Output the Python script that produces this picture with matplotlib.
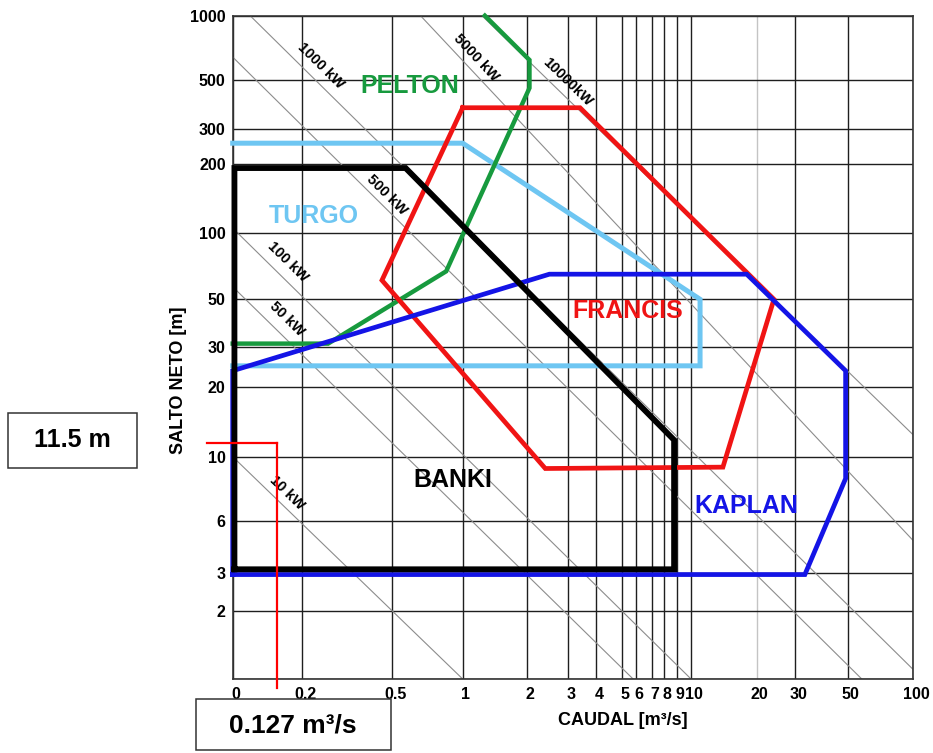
import numpy as np
import matplotlib
matplotlib.use('Agg')
import matplotlib.pyplot as plt
from matplotlib.patches import Rectangle
from matplotlib.transforms import ScaledTranslation, blended_transform_factory

plt.rcParams['font.family'] = ['Liberation Sans', 'DejaVu Sans']
plt.rcParams['font.weight'] = 'bold'

# axis ticks: caudal [m3/s] and salto neto [m]
q_ticks = [0, 0.2, 0.5, 1, 2, 3, 4, 5, 6, 7, 8, 9, 10, 20, 30, 50, 100]
q_labels = ['0', '0.2', '0.5', '1', '2', '3', '4', '5', '6', '7', '8', '9',
            '10', '20', '30', '50', '100']
h_ticks = [1, 2, 3, 6, 10, 20, 30, 50, 100, 200, 300, 500, 1000]
h_labels = ['', '2', '3', '6', '10', '20', '30', '50', '100', '200', '300',
            '500', '1000']

# where every tick sits along its axis (fraction of axis length)
q_frac = [0, 0.1023, 0.2345, 0.3379, 0.4324, 0.4922, 0.5338, 0.5716, 0.5921,
          0.6156, 0.6337, 0.6532, 0.6734, 0.7699, 0.8262, 0.9036, 1.0]
h_frac = [0, 0.1025, 0.1598, 0.2387, 0.3351, 0.4407, 0.5010, 0.5724, 0.6724,
          0.7764, 0.8287, 0.9031, 1.0]

# application ranges of each turbine type (Q, H)
pelton_q = [0, 0.26, 0.85, 2.05, 2.05, 1.27]
pelton_h = [31, 31, 67, 460, 620, 1000]

turgo_q = [0, 1.0, 11, 11, 0]
turgo_h = [255, 255, 50, 24.7, 24.7]

francis_q = [1.0, 3.4, 24, 14, 2.4, 0.45, 1.0]
francis_h = [375, 375, 50, 9.2, 9.1, 61, 375]

kaplan_q = [0, 0, 2.5, 18, 49, 49, 33, 0]
kaplan_h = [2.95, 23.5, 65, 65, 23.5, 8.4, 2.95, 2.95]

banki_q = [0.005, 0.005, 0.57, 8.75, 8.75, 0.005]
banki_h = [3.15, 192, 192, 11.8, 3.15, 3.15]

names = ['PELTON', 'TURGO', 'BANKI', 'FRANCIS', 'KAPLAN']
name_q = [0.595, 0.225, 0.909, 5.39, 17.9]
name_h = [470, 118.6, 8.29, 44.3, 6.74]

# constant power lines: end points and label anchors
power_labels = ['10 kW', '50 kW', '100 kW', '500 kW', '1000 kW', '5000 kW', '10000kW']
power_q0 = [0, 0, 0, 0, 0.05, 0.66, 1.23]
power_h0 = [10, 57, 105, 640, 1000, 1000, 1000]
power_q1 = [1.0, 5.8, 10, 58, 100, 100, 100]
power_h1 = [1, 1, 1, 1, 1.1, 4.6, 12.4]
power_lq = [0.156, 0.156, 0.159, 0.474, 0.242, 1.154, 3.0]
power_lh = [7.5, 40.3, 73.9, 146.5, 581, 634, 490]

# design point
q_mark = 0.127
h_mark = 11.5


def lin_interp(v, xk, yk):
    # np.interp with linear extrapolation at both ends
    v = np.asarray(v, float)
    out = np.interp(v, xk, yk)
    left = yk[0] + (v - xk[0]) * (yk[1] - yk[0]) / (xk[1] - xk[0])
    right = yk[-1] + (v - xk[-1]) * (yk[-1] - yk[-2]) / (xk[-1] - xk[-2])
    return np.where(v < xk[0], left, np.where(v > xk[-1], right, out))


Q_SPLIT = 0.2  # linear between 0 and 0.2, logarithmic above


def q_to_t(q):
    q = np.asarray(q, float)
    t0 = np.log10(Q_SPLIT)
    return np.where(q >= Q_SPLIT, np.log10(np.maximum(q, Q_SPLIT)), t0 - (Q_SPLIT - q))


def t_to_q(t):
    t = np.asarray(t, float)
    t0 = np.log10(Q_SPLIT)
    return np.where(t >= t0, 10 ** np.clip(t, t0, 10), Q_SPLIT - (t0 - t))


q_t = q_to_t(q_ticks)
h_t = np.log10(h_ticks)


def fwd_q(q):
    return lin_interp(q_to_t(q), q_t, q_frac)


def inv_q(f):
    return t_to_q(lin_interp(f, q_frac, q_t))


def fwd_h(h):
    return lin_interp(np.log10(np.maximum(np.asarray(h, float), 1e-9)), h_t, h_frac)


def inv_h(f):
    return 10 ** lin_interp(f, h_frac, h_t)


fig = plt.figure(figsize=(9.33, 7.53), dpi=100)
ax = fig.add_axes([0.2494, 0.0983, 0.7295, 0.8809])
ax.set_xscale('function', functions=(fwd_q, inv_q))
ax.set_yscale('function', functions=(fwd_h, inv_h))
ax.set_xlim(0, 100)
ax.set_ylim(1, 1000)

ax.set_xticks(q_ticks, q_labels)
ax.set_yticks(h_ticks, h_labels)
ax.tick_params(length=0, labelsize=11.5)
ax.tick_params(axis='x', pad=6)
ax.tick_params(axis='y', pad=5)
for lab in ax.get_xticklabels():
    lab.set_transform(lab.get_transform() + ScaledTranslation(3 / 100, 0, fig.dpi_scale_trans))

ax.set_axisbelow(True)
ax.grid(True, color='#1e1e1e', lw=1.0)
ax.get_xgridlines()[q_ticks.index(20)].set_color('#c4c4c4')
for sp in ax.spines.values():
    sp.set_color('#333333')
    sp.set_linewidth(1.2)

# constant power lines
for i, lab in enumerate(power_labels):
    ax.plot([power_q0[i], power_q1[i]], [power_h0[i], power_h1[i]],
            color='#8c8c8c', lw=0.8, zorder=1)
    p0 = ax.transData.transform((power_q0[i], power_h0[i]))
    p1 = ax.transData.transform((power_q1[i], power_h1[i]))
    ang = np.degrees(np.arctan2(p1[1] - p0[1], p1[0] - p0[0]))
    ax.text(power_lq[i], power_lh[i], lab, rotation=ang, rotation_mode='anchor',
            ha='center', va='center', fontsize=10.5, fontweight='bold', zorder=2)

# turbine ranges
ax.plot(turgo_q, turgo_h, color='#6ec6f2', lw=3.6, clip_on=False,
        solid_joinstyle='miter', zorder=3)
ax.plot(pelton_q, pelton_h, color='#179a3e', lw=3.2, clip_on=False,
        solid_joinstyle='miter', zorder=3)
ax.plot(francis_q, francis_h, color='#f01414', lw=3.4, clip_on=False,
        solid_joinstyle='miter', zorder=3)
ax.plot(kaplan_q, kaplan_h, color='#1414e6', lw=3.4, clip_on=False,
        solid_joinstyle='miter', zorder=3)
ax.plot(banki_q, banki_h, color='black', lw=4.2, clip_on=False,
        solid_joinstyle='miter', zorder=3)

name_colors = ['#179a3e', '#6ec6f2', 'black', '#f01414', '#1414e6']
for n, q, h, c in zip(names, name_q, name_h, name_colors):
    ax.text(q, h, n, color=c, fontsize=18, fontweight='bold',
            ha='center', va='center', zorder=4)

ax.set_xlabel('CAUDAL [m³/s]', fontsize=13, fontweight='bold')
ax.xaxis.set_label_coords(0.5735, -0.05)
ax.set_ylabel('SALTO NETO [m]', fontsize=13, fontweight='bold')
ax.yaxis.set_label_coords(-0.067, 0.451)

# design point read-off
pt = ax.transAxes.inverted().transform(ax.transData.transform((q_mark, h_mark)))
th = blended_transform_factory(ax.transAxes, ax.transData)
tv = blended_transform_factory(ax.transData, ax.transAxes)
ax.plot([-0.0382, pt[0]], [h_mark, h_mark], color='red', lw=1.6,
        transform=th, clip_on=False, zorder=5)
ax.plot([q_mark, q_mark], [pt[1], -0.0136], color='red', lw=1.6,
        transform=tv, clip_on=False, zorder=5)

fig.add_artist(Rectangle((0.0089, 0.3785), 0.1383, 0.0730, transform=fig.transFigure,
                         fill=False, ec='#333333', lw=1.1))
fig.text(0.0775, 0.4157, f'{h_mark} m', fontsize=18, fontweight='bold',
         ha='center', va='center')
fig.add_artist(Rectangle((0.2101, 0.004), 0.209, 0.0677, transform=fig.transFigure,
                         fill=False, ec='#333333', lw=1.1))
fig.text(0.314, 0.037, f'{q_mark} m³/s', fontsize=19, fontweight='bold',
         ha='center', va='center')

fig.savefig('out.png', dpi=100)
plt.close(fig)
